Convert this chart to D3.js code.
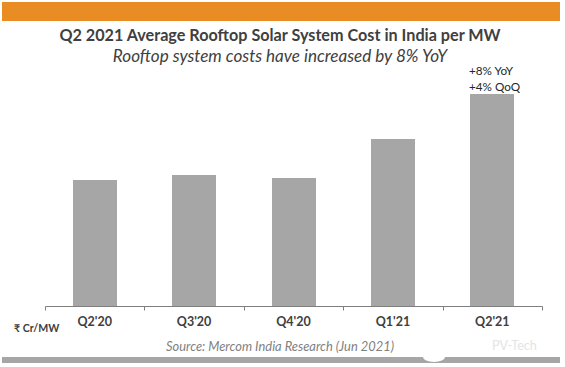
<!DOCTYPE html>
<html>
<head>
<meta charset="utf-8">
<script src="https://cdn.jsdelivr.net/npm/d3@7"></script>
<style>
  html, body { margin: 0; padding: 0; background: #fff; }
  svg { display: block; }
  text { font-family: Lato, sans-serif; }
</style>
</head>
<body>
<div id="chart"></div>
<script>
// quarters and relative cost (the picture prints no values)
const quarters = ["Q2'20", "Q3'20", "Q4'20", "Q1'21", "Q2'21"];
const costs = [126, 131, 128, 167, 212];
const notes = ["+8% YoY", "+4% QoQ"];

const width = 565, height = 367;

const svg = d3.select('#chart').append('svg')
    .attr('width', width)
    .attr('height', height);

// top and bottom bands
svg.append('rect').attr('x', 2).attr('y', 2).attr('width', 558).attr('height', 19).attr('fill', '#ea8c24');
svg.append('rect').attr('x', 2).attr('y', 357).attr('width', 558).attr('height', 6).attr('fill', '#a6a6a6');
// the watermark bites a notch out of the bottom band
svg.append('ellipse').attr('cx', 434).attr('cy', 357).attr('rx', 11).attr('ry', 5).attr('fill', '#fff');

let x = d3.scaleBand()
    .domain(quarters)
    .range([45, 542])
    .padding(0);

let y = d3.scaleLinear()
    .domain([0, 212])
    .range([306, 94]);

const barWidth = 44;

svg.selectAll('rect.bar')
    .data(quarters)
    .join('rect')
    .classed('bar', true)
    .attr('x', d => Math.round(x(d) + x.bandwidth() / 2 - barWidth / 2))
    .attr('y', (d, i) => y(costs[i]))
    .attr('width', barWidth)
    .attr('height', (d, i) => y(0) - y(costs[i]))
    .attr('fill', '#a6a6a6');

// axis, ticks pointing down between the bars
let axis = svg.append('g')
    .attr('transform', `translate(0,${y(0) + 0.5})`)
    .call(d3.axisBottom(x).tickSize(0).tickPadding(11));
axis.select('.domain').attr('stroke', '#7f7f7f').attr('d', 'M45.5,4V0H542.5V4');
axis.selectAll('.tick text')
    .attr('font-size', 12.5)
    .attr('font-weight', 700)
    .attr('fill', '#404040')
    .style('font-family', 'Lato, sans-serif');
axis.selectAll('line.sep')
    .data(quarters.slice(1))
    .join('line')
    .classed('sep', true)
    .attr('x1', d => Math.round(x(d)) + 0.5)
    .attr('x2', d => Math.round(x(d)) + 0.5)
    .attr('y1', 0)
    .attr('y2', 4)
    .attr('stroke', '#7f7f7f');

svg.append('text').attr('x', 280).attr('y', 41).attr('text-anchor', 'middle')
    .attr('font-size', 16.2).attr('font-weight', 700).attr('fill', '#404040')
    .text('Q2 2021 Average Rooftop Solar System Cost in India per MW');
svg.append('text').attr('x', 280).attr('y', 62).attr('text-anchor', 'middle')
    .attr('font-size', 17.1).attr('font-style', 'italic').attr('fill', '#404040')
    .text('Rooftop system costs have increased by 8% YoY');

svg.selectAll('text.note')
    .data(notes)
    .join('text')
    .classed('note', true)
    .attr('x', 469)
    .attr('y', (d, i) => 75 + i * 16)
    .attr('font-size', 11.7)
    .attr('fill', '#262626')
    .text(d => d);

svg.append('text').attr('x', 14).attr('y', 332)
    .attr('font-size', 10.6).attr('font-weight', 700).attr('fill', '#404040')
    .text('₹ Cr/MW');

svg.append('text').attr('x', 280).attr('y', 351).attr('text-anchor', 'middle')
    .attr('font-size', 12.9).attr('font-style', 'italic').attr('fill', '#7f7f7f')
    .text('Source: Mercom India Research (Jun 2021)');

// faint watermark
svg.append('text').attr('x', 492).attr('y', 350)
    .attr('font-size', 12.5).attr('fill', '#e4e4e4')
    .text('PV-Tech');
</script>
</body>
</html>
